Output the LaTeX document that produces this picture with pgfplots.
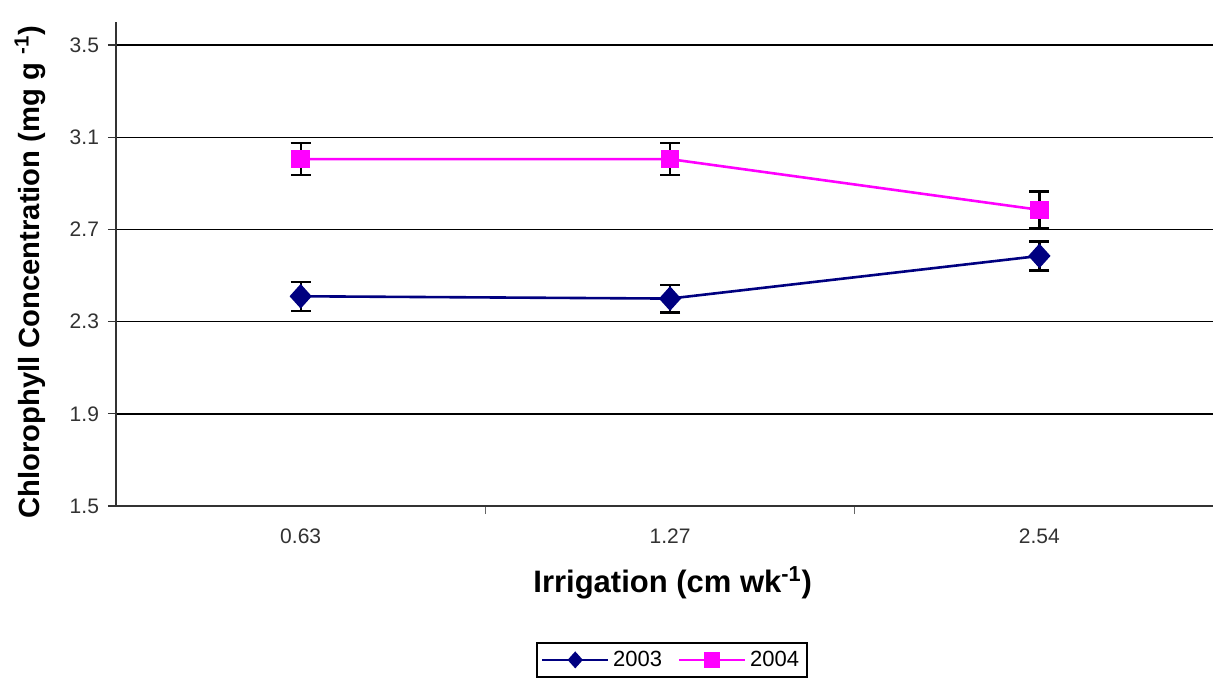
\documentclass[border=0pt]{standalone}
\usepackage{pgfplots}
\pgfplotsset{compat=1.18}
\usepackage{fontspec}
\setmainfont{Liberation Sans}
\definecolor{navyc}{RGB}{0,0,128}
\definecolor{magc}{RGB}{255,0,255}
\definecolor{tickc}{RGB}{50,50,50}
\begin{document}
\begin{tikzpicture}
\useasboundingbox (-58pt,-90pt) rectangle (549.5pt,253pt);
\begin{axis}[
  at={(0pt,0pt)}, anchor=south west,
  scale only axis,
  width=548.5pt, height=242pt,
  xmin=-0.5, xmax=2.47,
  ymin=1.5, ymax=3.6,
  axis x line*=bottom, axis y line*=left,
  axis line style={line width=0.8pt, black!80},
  xtick={0,1,2}, xticklabels={0.63,1.27,2.54},
  minor xtick={0.5,1.5},
  major x tick style={draw=none},
  minor x tick style={black!60, line width=0.6pt},
  minor tick length=4pt,
  ytick={1.5,1.9,2.3,2.7,3.1,3.5},
  yticklabels={1.5,1.9,2.3,2.7,3.1,3.5},
  y tick style={black!80, line width=0.6pt},
  tick align=outside, major tick length=4pt,
  ymajorgrids, grid style={black, line width=0.7pt},
  tick label style={font=\fontsize{10.5}{12}\selectfont, text=tickc},
  /pgf/number format/assume math mode=true,
  xticklabel style={yshift=-4pt},
  yticklabel style={xshift=-1pt},
  xlabel={\textbf{Irrigation (cm wk\textsuperscript{-1})}},
  ylabel={\textbf{Chlorophyll Concentration (mg g \textsuperscript{-1})}},
  every axis x label/.style={at={(axis description cs:0.5075,-0.159)}, anchor=center, font=\fontsize{15.5}{17}\selectfont},
  every axis y label/.style={at={(axis description cs:-0.0784,0.483)}, anchor=center, rotate=90, font=\fontsize{14.6}{16}\selectfont},
  legend style={at={(axis description cs:0.507,-0.318)}, anchor=center,
     legend columns=2, draw=black, line width=0.8pt,
     font=\fontsize{11}{13}\selectfont, inner sep=2pt,
     /tikz/every even column/.append style={column sep=6pt}},
  legend image code/.code={\draw[mark repeat=2,mark phase=2,#1,line width=1pt,mark size=3.5pt] plot coordinates {(0pt,0pt)(16.5pt,0pt)(33pt,0pt)};},
  clip=false,
]
\addplot+[navyc, line width=1.3pt, mark=diamond*, mark size=5.2pt,
  mark options={navyc, fill=navyc, solid, xscale=1.2},
  error bars/.cd, y dir=both, y explicit,
  error bar style={black, line width=1.1pt},
  error mark options={rotate=90, mark size=5pt, black, line width=1.1pt}]
  coordinates {(0,2.41) +- (0,0.063) (1,2.40) +- (0,0.06) (2,2.585) +- (0,0.063)};
\addlegendentry{2003}
\addplot+[magc, line width=1.3pt, mark=square*, mark size=4pt,
  mark options={magc, fill=magc, solid},
  error bars/.cd, y dir=both, y explicit,
  error bar style={black, line width=1.1pt},
  error mark options={rotate=90, mark size=5pt, black, line width=1.1pt}]
  coordinates {(0,3.005) +- (0,0.07) (1,3.005) +- (0,0.07) (2,2.785) +- (0,0.08)};
\addlegendentry{2004}
\end{axis}
\end{tikzpicture}
\end{document}
